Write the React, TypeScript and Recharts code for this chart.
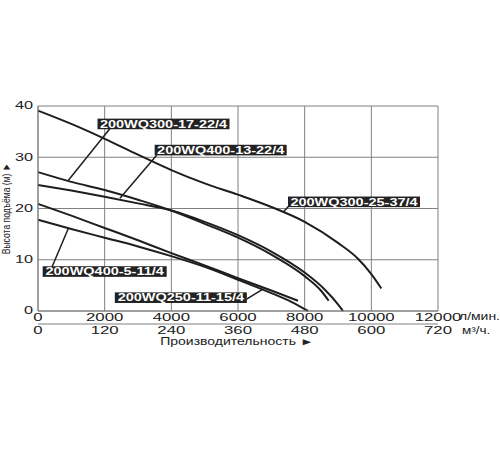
import React from "react";
import { CartesianGrid, Line, LineChart, ReferenceDot, ReferenceLine, XAxis, YAxis } from "recharts";

// flow in l/min, head in m
const flowTicks = [0, 2000, 4000, 6000, 8000, 10000, 12000];
const cubicTicks = [0, 120, 240, 360, 480, 600, 720];
const headTicks = [0, 10, 20, 30, 40];

const q300_25 = [0, 1000, 2000, 3000, 4000, 5000, 6000, 7000, 8000, 9000, 9600, 10000, 10300];
const h300_25 = [39.1, 36.5, 33.6, 30.5, 27.5, 24.9, 22.7, 20.3, 17.4, 13.3, 10.2, 7.2, 4.4];

const q300_17 = [0, 1000, 2000, 3000, 4000, 5000, 6000, 7000, 8000, 8500, 8720];
const h300_17 = [27.1, 25.2, 23.6, 21.7, 19.6, 17.0, 14.3, 11.0, 6.8, 3.9, 2.0];

const q400_13 = [0, 1000, 2000, 3000, 4000, 5000, 6000, 7000, 8000, 8600, 9000, 9150];
const h400_13 = [24.6, 23.5, 22.3, 21.0, 19.6, 17.4, 14.8, 11.6, 7.5, 4.2, 1.3, 0];

const q250_11 = [0, 1000, 2000, 3000, 4000, 5000, 6000, 7000, 7800];
const h250_11 = [20.9, 18.6, 16.2, 13.8, 11.3, 8.9, 6.4, 4.0, 2.0];

const q400_5 = [0, 1000, 2000, 3000, 4000, 5000, 6000, 7000, 7600, 8100];
const h400_5 = [17.8, 16.0, 14.3, 12.6, 10.7, 8.6, 6.1, 3.5, 1.8, 0];

const toPoints = (qs: number[], hs: number[]) => qs.map((q, i) => ({ q, h: hs[i] }));

const series = [
  { name: "200WQ300-25-37/4", data: toPoints(q300_25, h300_25) },
  { name: "200WQ300-17-22/4", data: toPoints(q300_17, h300_17) },
  { name: "200WQ400-13-22/4", data: toPoints(q400_13, h400_13) },
  { name: "200WQ250-11-15/4", data: toPoints(q250_11, h250_11) },
  { name: "200WQ400-5-11/4", data: toPoints(q400_5, h400_5) },
];

// second scale (m³/h) only carries ticks, no visible series
const cubicScale = cubicTicks.map((m) => ({ m, blank: null }));

// callouts: box centre and leader line, in data units
const callouts = [
  { text: "200WQ300-17-22/4", q: 3765, h: 36.5, w: 132, from: [900, 25.4], to: [2160, 35.6] },
  { text: "200WQ400-13-22/4", q: 5480, h: 31.4, w: 132, from: [2460, 22.0], to: [3560, 30.4] },
  { text: "200WQ300-25-37/4", q: 9480, h: 21.3, w: 132, from: [7360, 19.3], to: [7510, 20.4] },
  { text: "200WQ400-5-11/4", q: 2000, h: 7.7, w: 124, from: [909, 16.1], to: [420, 8.6] },
  { text: "200WQ250-11-15/4", q: 4285, h: 2.6, w: 132, from: [6760, 4.3], to: [6260, 2.3] },
];

const FONT = "'Liberation Sans', Arial, sans-serif";
const GRID = "#808080";
const INK = "#1e1e1e";

function StretchText({ x, y, children, size = 10.5, sx = 1.6, anchor = "middle", weight = "normal", fill = "#222" }: any) {
  return (
    <text
      transform={`translate(${x},${y}) scale(${sx},1)`}
      textAnchor={anchor}
      dominantBaseline="central"
      fontFamily={FONT}
      fontSize={size}
      fontWeight={weight}
      fill={fill}
    >
      {children}
    </text>
  );
}

const FlowTick = ({ x, y, payload }: any) => (
  <StretchText x={x} y={y + 6}>{payload.value}</StretchText>
);

const CubicTick = ({ x, y, payload }: any) => (
  <StretchText x={x} y={y + 6.5}>{payload.value}</StretchText>
);

const HeadTick = ({ x, y, payload }: any) => (
  <StretchText x={x} y={y} anchor="end" sx={1.55}>{payload.value}</StretchText>
);

function CalloutBox({ cx, cy, text, w }: any) {
  if (cx == null || cy == null) return null;
  return (
    <g>
      <rect x={cx - w / 2} y={cy - 5.3} width={w} height={10.6} fill="#222" />
      <StretchText x={cx} y={cy + 0.4} size={10.5} sx={1.38} weight="bold" fill="#fff">{text}</StretchText>
    </g>
  );
}

export default function App() {
  return (
    <div style={{ position: "absolute", left: 0, top: 0, width: 500, height: 450, background: "#fff" }}>
      <LineChart width={500} height={450} margin={{ top: 106, right: 62, bottom: 106, left: 8 }}>
        <CartesianGrid xAxisId="lpm" stroke={GRID} strokeWidth={1} />
        <XAxis
          xAxisId="lpm"
          type="number"
          dataKey="q"
          domain={[0, 12000]}
          ticks={flowTicks}
          height={13}
          tickSize={0}
          tickMargin={0}
          axisLine={{ stroke: GRID }}
          tickLine={false}
          tick={FlowTick}
          interval={0}
        />
        <XAxis
          xAxisId="m3"
          type="number"
          dataKey="m"
          domain={[0, 720]}
          ticks={cubicTicks}
          height={20}
          tickSize={0}
          tickMargin={0}
          axisLine={{ stroke: GRID }}
          tickLine={false}
          tick={CubicTick}
          interval={0}
        />
        <YAxis
          type="number"
          domain={[0, 40]}
          ticks={headTicks}
          width={30}
          tickSize={0}
          tickMargin={5}
          axisLine={{ stroke: GRID }}
          tickLine={false}
          tick={HeadTick}
          interval={0}
        />
        <Line
          xAxisId="m3"
          data={cubicScale}
          dataKey="blank"
          stroke="none"
          dot={false}
          legendType="none"
          isAnimationActive={false}
        />
        {series.map((s) => (
          <Line
            key={s.name}
            xAxisId="lpm"
            data={s.data}
            dataKey="h"
            type="monotone"
            stroke={INK}
            strokeWidth={2}
            dot={false}
            isAnimationActive={false}
          />
        ))}
        {callouts.map((c) => (
          <ReferenceLine
            key={c.text + "-leader"}
            xAxisId="lpm"
            segment={[
              { x: c.from[0], y: c.from[1] },
              { x: c.to[0], y: c.to[1] },
            ]}
            stroke={INK}
            strokeWidth={1.5}
          />
        ))}
        {callouts.map((c) => (
          <ReferenceDot
            key={c.text}
            xAxisId="lpm"
            x={c.q}
            y={c.h}
            r={0}
            ifOverflow="visible"
            shape={(p: any) => <CalloutBox {...p} text={c.text} w={c.w} />}
          />
        ))}
      </LineChart>
      <svg width={500} height={450} style={{ position: "absolute", left: 0, top: 0, pointerEvents: "none" }}>
        <StretchText x={459} y={317} anchor="start" sx={1.33}>л/мин.</StretchText>
        <StretchText x={462} y={331} anchor="start" sx={1.35} size={10}>м³/ч.</StretchText>
        <StretchText x={237} y={341.5} sx={1.4} size={10}>Производительность ►</StretchText>
        <text
          transform="translate(6,208.5) rotate(-90) scale(1,1.35)"
          textAnchor="middle"
          dominantBaseline="central"
          fontFamily={FONT}
          fontSize={8.6}
          fill="#222"
        >
          Высота подъёма (м) ►
        </text>
      </svg>
    </div>
  );
}
